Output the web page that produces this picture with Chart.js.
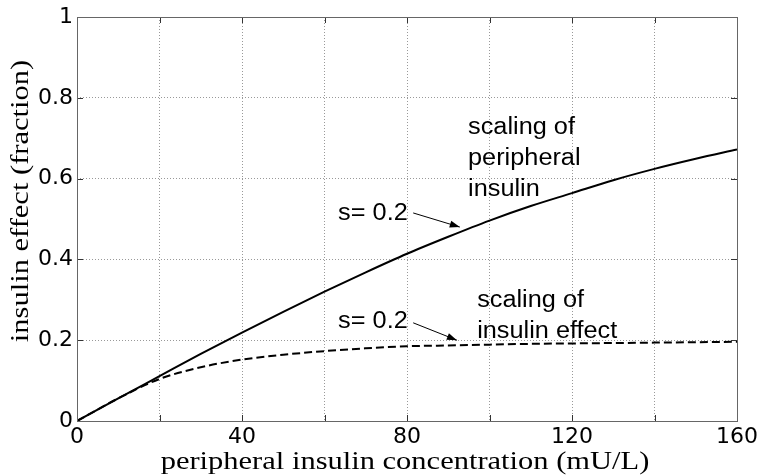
<!DOCTYPE html>
<html lang="en">
<head>
    <meta charset="UTF-8">
    <title>Insulin effect scaling</title>
    <script src="https://cdn.jsdelivr.net/npm/chart.js"></script>
    <style>
        html, body {
            margin: 0;
            padding: 0;
            background: #ffffff;
        }
        #wrap {
            width: 758px;
            height: 475px;
        }
    </style>
</head>
<body>
    <div id="wrap"><canvas id="insulinChart"></canvas></div>

    <script>
        // values
        const concentration = [0, 10, 20, 30, 40, 50, 60, 70, 80, 90, 100, 110, 120, 130, 140, 150, 160];
        const peripheralScaling = [0, 0.056, 0.111, 0.166, 0.219, 0.270, 0.320, 0.368, 0.414, 0.456, 0.496, 0.532, 0.564, 0.596, 0.624, 0.649, 0.672];
        const effectScaling = [0, 0.056, 0.104, 0.133, 0.152, 0.164, 0.173, 0.180, 0.185, 0.187, 0.189, 0.191, 0.192, 0.193, 0.194, 0.195, 0.196];
        const xTickLabels = [0, 40, 80, 120, 160];
        const yTickLabels = [0, 0.2, 0.4, 0.6, 0.8, 1];

        const xTitle = 'peripheral insulin concentration (mU/L)';
        const yTitle = 'insulin effect (fraction)';

        // text notes, placed in data units
        const notes = [
            { lines: ['scaling of', 'peripheral', 'insulin'], x: 94.8, y: 0.725 },
            { lines: ['scaling of', 'insulin effect'], x: 97, y: 0.297 },
            { lines: ['s= 0.2'], x: 63.3, y: 0.512 },
            { lines: ['s= 0.2'], x: 63.3, y: 0.245 }
        ];
        const arrows = [
            { from: [81.5, 0.515], to: [92.8, 0.480] },
            { from: [81.5, 0.243], to: [92.1, 0.200] }
        ];

        function toPoints(xs, ys) {
            return xs.map((v, i) => ({ x: v, y: ys[i] }));
        }

        function wideText(ctx, text, px, py, font, align, sx, rot) {
            ctx.save();
            ctx.translate(px, py);
            ctx.rotate(rot || 0);
            ctx.scale(sx, 1);
            ctx.font = font;
            ctx.textAlign = align;
            ctx.textBaseline = 'middle';
            ctx.fillStyle = '#000';
            ctx.fillText(text, 0, 0);
            ctx.restore();
        }

        const overlay = {
            id: 'overlay',
            afterDraw(chart) {
                const ctx = chart.ctx;
                const a = chart.chartArea;
                const xs = chart.scales.x, ys = chart.scales.y;

                // inward tick marks on all four sides
                ctx.save();
                ctx.strokeStyle = '#333';
                ctx.lineWidth = 1;
                ctx.beginPath();
                for (let v = 0; v <= 160; v += 20) {
                    const px = Math.round(xs.getPixelForValue(v)) + 0.5;
                    ctx.moveTo(px, a.bottom); ctx.lineTo(px, a.bottom - 6);
                    ctx.moveTo(px, a.top); ctx.lineTo(px, a.top + 6);
                }
                yTickLabels.forEach(v => {
                    const py = Math.round(ys.getPixelForValue(v)) + 0.5;
                    ctx.moveTo(a.left, py); ctx.lineTo(a.left + 6, py);
                    ctx.moveTo(a.right, py); ctx.lineTo(a.right - 6, py);
                });
                ctx.stroke();

                // frame
                ctx.strokeStyle = '#666';
                ctx.strokeRect(Math.round(a.left) + 0.5, Math.round(a.top) + 0.5,
                    Math.round(a.right - a.left), Math.round(a.bottom - a.top));
                ctx.restore();

                // notes
                const noteFont = '23px "Liberation Sans", Arial, sans-serif';
                notes.forEach(n => {
                    const px = xs.getPixelForValue(n.x);
                    const py = ys.getPixelForValue(n.y);
                    n.lines.forEach((t, i) => wideText(ctx, t, px, py + i * 31, noteFont, 'left', 1.1));
                });

                // arrows
                ctx.save();
                ctx.strokeStyle = '#000';
                ctx.fillStyle = '#000';
                ctx.lineWidth = 1;
                arrows.forEach(ar => {
                    const x1 = xs.getPixelForValue(ar.from[0]), y1 = ys.getPixelForValue(ar.from[1]);
                    const x2 = xs.getPixelForValue(ar.to[0]), y2 = ys.getPixelForValue(ar.to[1]);
                    const ang = Math.atan2(y2 - y1, x2 - x1);
                    ctx.beginPath();
                    ctx.moveTo(x1, y1);
                    ctx.lineTo(x2, y2);
                    ctx.stroke();
                    ctx.beginPath();
                    ctx.moveTo(x2, y2);
                    ctx.lineTo(x2 - 10 * Math.cos(ang) + 3.5 * Math.sin(ang), y2 - 10 * Math.sin(ang) - 3.5 * Math.cos(ang));
                    ctx.lineTo(x2 - 10 * Math.cos(ang) - 3.5 * Math.sin(ang), y2 - 10 * Math.sin(ang) + 3.5 * Math.cos(ang));
                    ctx.closePath();
                    ctx.fill();
                });
                ctx.restore();

                // axis titles (serif, a bit wide like the original)
                const titleFont = '25px "Liberation Serif", "Times New Roman", serif';
                wideText(ctx, xTitle, (a.left + a.right) / 2 - 2, 462, titleFont, 'center', 1.22);
                wideText(ctx, yTitle, 21, 201, titleFont, 'center', 1.22, -Math.PI / 2);
            }
        };

        const tickFont = { family: '"DejaVu Sans", sans-serif', size: 22 };

        new Chart(document.getElementById('insulinChart'), {
            type: 'line',
            data: {
                datasets: [
                    {
                        label: 'scaling of peripheral insulin',
                        data: toPoints(concentration, peripheralScaling),
                        borderColor: '#000',
                        borderWidth: 2,
                        pointRadius: 0,
                        cubicInterpolationMode: 'monotone',
                        fill: false
                    },
                    {
                        label: 'scaling of insulin effect',
                        data: toPoints(concentration, effectScaling),
                        borderColor: '#000',
                        borderWidth: 2,
                        borderDash: [8, 4],
                        pointRadius: 0,
                        cubicInterpolationMode: 'monotone',
                        fill: false
                    }
                ]
            },
            options: {
                responsive: true,
                maintainAspectRatio: false,
                animation: false,
                layout: { padding: { left: 0, right: 21, top: 17, bottom: 0 } },
                plugins: {
                    legend: { display: false },
                    tooltip: { enabled: false }
                },
                scales: {
                    x: {
                        type: 'linear',
                        min: 0,
                        max: 160,
                        afterFit: s => { s.height = 54; s.paddingLeft = 0; s.paddingRight = 0; },
                        border: { display: false, dash: [1, 2] },
                        grid: { color: '#999', drawTicks: false, lineWidth: 1 },
                        ticks: {
                            stepSize: 20,
                            padding: 3,
                            color: '#000',
                            font: tickFont,
                            maxRotation: 0,
                            autoSkip: false,
                            callback: v => xTickLabels.includes(v) ? String(v) : ''
                        }
                    },
                    y: {
                        min: 0,
                        max: 1,
                        afterFit: s => { s.width = 77; s.paddingTop = 0; s.paddingBottom = 0; },
                        border: { display: false, dash: [1, 2] },
                        grid: { color: '#999', drawTicks: false, lineWidth: 1 },
                        ticks: {
                            stepSize: 0.2,
                            padding: 4,
                            color: '#000',
                            font: tickFont,
                            callback: v => {
                                const hit = yTickLabels.find(t => Math.abs(t - v) < 1e-6);
                                return hit === undefined ? '' : String(hit);
                            }
                        }
                    }
                }
            },
            plugins: [overlay]
        });
    </script>
</body>
</html>
